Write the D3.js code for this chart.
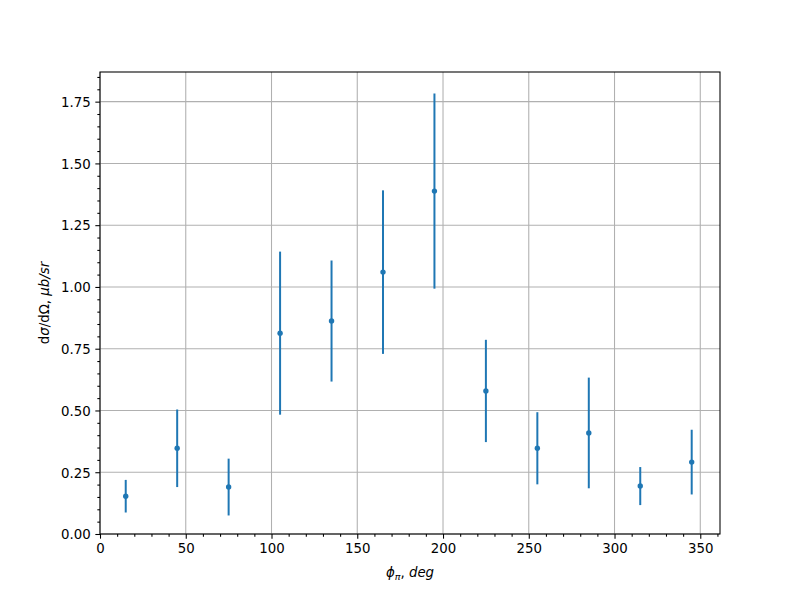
<!DOCTYPE html>
<html>
<head>
<meta charset="utf-8">
<script src="https://cdn.jsdelivr.net/npm/d3@7"></script>
<style>
  body { margin: 0; background: #fff; }
  svg { display: block; font-family: "DejaVu Sans", sans-serif; }
</style>
</head>
<body>
<svg id="chart" width="800" height="600"></svg>
<script>
const phi = [15, 45, 75, 105, 135, 165, 195, 225, 255, 285, 315, 345];
const xsec = [0.153, 0.347, 0.190, 0.813, 0.862, 1.060, 1.388, 0.579, 0.347, 0.409, 0.194, 0.291];
const err = [0.066, 0.157, 0.115, 0.330, 0.245, 0.331, 0.395, 0.207, 0.146, 0.224, 0.077, 0.131];
const xTicks = [0, 50, 100, 150, 200, 250, 300, 350];
const yTicks = [0, 0.25, 0.5, 0.75, 1.0, 1.25, 1.5, 1.75];

const svg = d3.select("#chart");
const L = 100, R = 720, T = 72, B = 534;
const color = "#1f77b4";

const x = d3.scaleLinear().domain([0, 361.5]).range([L, R]);
const y = d3.scaleLinear().domain([0, 1.87]).range([B, T]);

svg.append("rect").attr("width", 800).attr("height", 600).attr("fill", "#fff");

// grid
const grid = svg.append("g");
grid.selectAll(".gx").data(xTicks).join("line")
  .attr("x1", d => x(d)).attr("x2", d => x(d)).attr("y1", T).attr("y2", B)
  .attr("stroke", "#b0b0b0").attr("stroke-width", 1.07);
grid.selectAll(".gy").data(yTicks).join("line")
  .attr("x1", L).attr("x2", R).attr("y1", d => y(d)).attr("y2", d => y(d))
  .attr("stroke", "#b0b0b0").attr("stroke-width", 1.07);

// error bars
const marks = svg.append("g");
marks.selectAll(".eb").data(phi).join("line")
  .attr("x1", d => x(d)).attr("x2", d => x(d))
  .attr("y1", (d, i) => y(xsec[i] - err[i])).attr("y2", (d, i) => y(xsec[i] + err[i]))
  .attr("stroke", color).attr("stroke-width", 2);
marks.selectAll(".pt").data(phi).join("circle")
  .attr("cx", d => x(d)).attr("cy", (d, i) => y(xsec[i])).attr("r", 2.7)
  .attr("fill", color);

// axes
const xMinor = d3.range(0, 361, 10).filter(v => v % 50 !== 0);
const yMinor = d3.range(0, 1.87, 0.05).filter(v => Math.abs(v / 0.25 - Math.round(v / 0.25)) > 1e-6);

const xAxis = svg.append("g").attr("transform", `translate(0,${B})`)
  .call(d3.axisBottom(x).tickValues(xTicks).tickFormat(d3.format("d")).tickSizeInner(4.67).tickSizeOuter(0).tickPadding(4.67));
const xAxisMinor = svg.append("g").attr("transform", `translate(0,${B})`)
  .call(d3.axisBottom(x).tickValues(xMinor).tickFormat("").tickSizeInner(2.67).tickSizeOuter(0));
const yAxis = svg.append("g").attr("transform", `translate(${L},0)`)
  .call(d3.axisLeft(y).tickValues(yTicks).tickFormat(d3.format(".2f")).tickSizeInner(4.67).tickSizeOuter(0).tickPadding(4.67));
const yAxisMinor = svg.append("g").attr("transform", `translate(${L},0)`)
  .call(d3.axisLeft(y).tickValues(yMinor).tickFormat("").tickSizeInner(2.67).tickSizeOuter(0));

[xAxis, xAxisMinor, yAxis, yAxisMinor].forEach(g => {
  g.select(".domain").remove();
  g.selectAll(".tick line").attr("stroke", "#000").attr("stroke-width", 1.07);
  g.selectAll(".tick text").attr("fill", "#000").style("font-size", "13.33px").style("font-family", "DejaVu Sans");
});
yAxis.selectAll(".tick text").attr("dy", "0.36em");
xAxis.selectAll(".tick text").attr("dy", "0.76em");

// spines
svg.append("rect").attr("x", L).attr("y", T).attr("width", R - L).attr("height", B - T)
  .attr("fill", "none").attr("stroke", "#000").attr("stroke-width", 1.07);

// labels
const xl = svg.append("text").attr("x", (L + R) / 2).attr("y", 577)
  .attr("text-anchor", "middle").style("font-size", "13.33px").attr("fill", "#000");
xl.append("tspan").attr("font-style", "italic").text("ϕ");
xl.append("tspan").attr("font-style", "italic").style("font-size", "9.5px").attr("dy", 2.5).text("π");
xl.append("tspan").attr("dy", -2.5).text(", ");
xl.append("tspan").attr("font-style", "italic").text("deg");

const yl = svg.append("text").attr("transform", `translate(49,${(T + B) / 2}) rotate(-90)`)
  .attr("text-anchor", "middle").style("font-size", "13.33px").attr("fill", "#000");
yl.append("tspan").text("d");
yl.append("tspan").attr("font-style", "italic").text("σ");
yl.append("tspan").text("/dΩ, ");
yl.append("tspan").attr("font-style", "italic").text("μb/sr");
</script>
</body>
</html>
